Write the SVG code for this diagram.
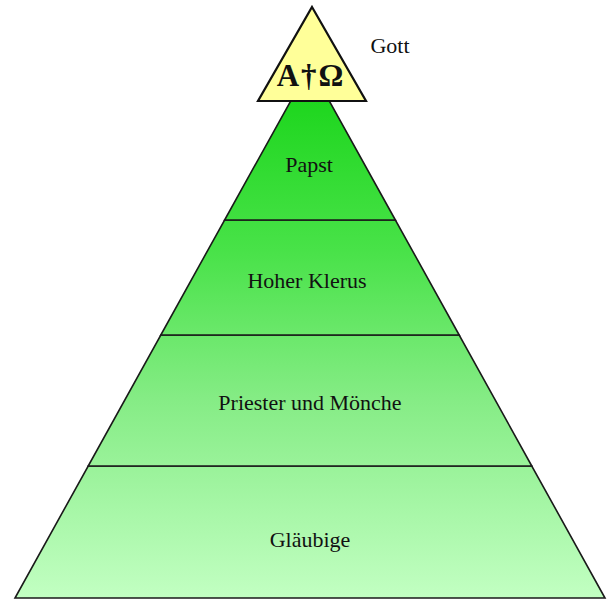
<svg xmlns="http://www.w3.org/2000/svg" width="609" height="601" viewBox="0 0 609 601">
  <style>
    .band { fill: url(#g); stroke: #1a1a1a; stroke-width: 1.6; stroke-linejoin: miter; }
    .lbl { font-family: "Liberation Serif", "Times New Roman", serif; font-size: 22px; fill: #111; text-anchor: middle; }
  </style>
  <defs>
    <linearGradient id="g" gradientUnits="userSpaceOnUse" x1="0" y1="100" x2="0" y2="598">
      <stop offset="0" stop-color="#1ed61e"/>
      <stop offset="0.3" stop-color="#48e248"/>
      <stop offset="0.6" stop-color="#85ec85"/>
      <stop offset="1" stop-color="#c2ffc2"/>
    </linearGradient>
  </defs>
  <rect width="609" height="601" fill="#ffffff"/>
  <g id="glaeubige">
    <polygon class="band" points="88.2,466 531.8,466 605,598 15,598"/>
    <text class="lbl" x="310" y="547">Gläubige</text>
  </g>
  <g id="priester">
    <polygon class="band" points="160.8,335 459.2,335 531.8,466 88.2,466"/>
    <text class="lbl" x="310" y="410">Priester und Mönche</text>
  </g>
  <g id="klerus">
    <polygon class="band" points="224.6,220 395.4,220 459.2,335 160.8,335"/>
    <text class="lbl" x="307" y="288">Hoher Klerus</text>
  </g>
  <g id="papst">
    <polygon class="band" points="294,95 326,95 395.4,220 224.6,220"/>
    <text class="lbl" x="309" y="172">Papst</text>
  </g>
  <g id="gott">
    <polygon points="312,7 366,101 258,101" fill="#ffff99" stroke="#111" stroke-width="2.2" stroke-linejoin="miter"/>
    <text x="311" y="86" font-family="Liberation Serif, Times New Roman, serif" font-size="31" font-weight="bold" fill="#111" text-anchor="middle" letter-spacing="2">A†Ω</text>
    <text class="lbl" x="390" y="53">Gott</text>
  </g>
</svg>
